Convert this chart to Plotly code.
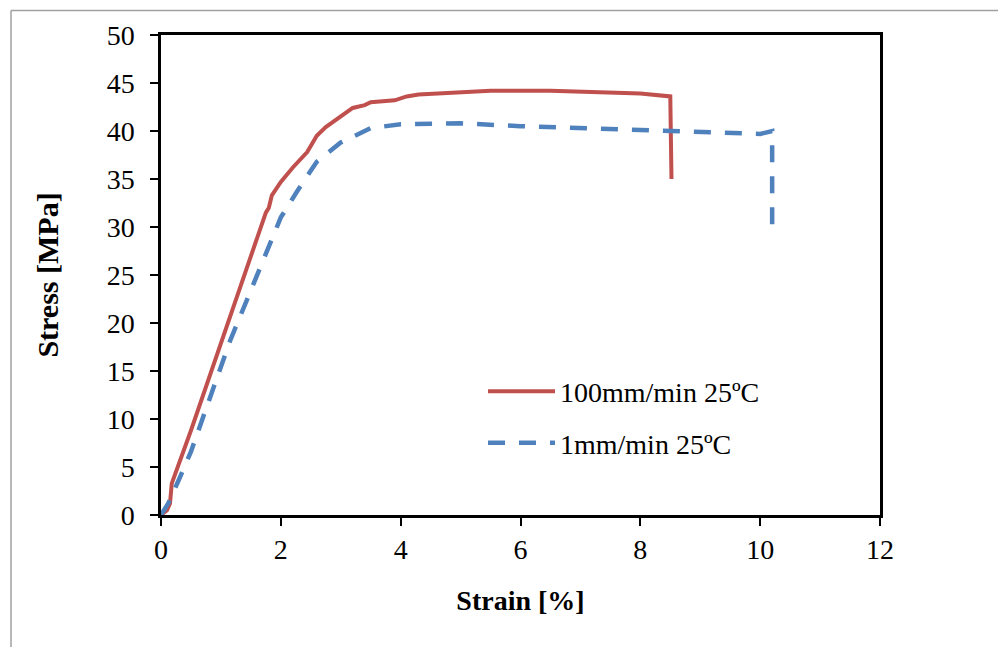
import plotly.graph_objects as go

# Data
strain_100 = [0, 0.10, 0.15, 0.18, 0.5, 1.0, 1.5, 1.75, 1.8, 1.85, 2.0, 2.2, 2.44, 2.6, 2.75, 3.0,
              3.2, 3.4, 3.5, 3.9, 4.1, 4.3, 4.8, 5.5, 6.5, 7.5, 8.0, 8.5, 8.52]
stress_100 = [0, 0.5, 1.2, 3.3, 8.8, 17.8, 27.0, 31.5, 32.0, 33.3, 34.7, 36.2, 37.8, 39.5, 40.4, 41.5,
              42.4, 42.7, 43.0, 43.2, 43.6, 43.8, 44.0, 44.2, 44.2, 44.0, 43.9, 43.6, 35.0]

strain_1 = [0, 0.12, 0.3, 0.5, 1.15, 1.77, 2.0, 2.27, 2.6, 3.0, 3.5, 4.0, 4.5, 5.0, 6.0, 6.5,
            7.0, 8.0, 9.0, 9.8, 10.0, 10.2, 10.2]
stress_1 = [0, 1.2, 3.7, 6.6, 18.1, 27.5, 31.0, 33.7, 36.8, 38.8, 40.3, 40.7, 40.8, 40.8, 40.5, 40.4,
            40.2, 40.0, 39.9, 39.7, 39.7, 40.0, 30.0]

names = ["100mm/min 25ºC", "1mm/min 25ºC"]
x_ticks = [0, 2, 4, 6, 8, 10, 12]
y_ticks = [0, 5, 10, 15, 20, 25, 30, 35, 40, 45, 50]

FONT = "Liberation Serif, Times New Roman, serif"

fig = go.Figure()
fig.add_trace(go.Scatter(x=strain_100, y=stress_100, mode="lines", name=names[0],
                         line=dict(color="#C0504D", width=4), legendgroup="a"))
fig.add_trace(go.Scatter(x=strain_1, y=stress_1, mode="lines", name=names[1],
                         line=dict(color="#4F81BD", width=4.5, dash="17px,14px"), legendgroup="b"))

# page has an 8px body margin: figure origin sits at page (8, 8)
OFF = 8
W, H = 1006 - OFF, 647 - OFF
L, T = 161 - OFF, 33 - OFF
R = W - (880 - OFF)
B = H - (515 - OFF)
pw = W - L - R
ph = H - T - B

axis_common = dict(showline=True, linecolor="black", linewidth=2.5, mirror=True,
                   ticks="outside", ticklen=8, tickwidth=2, tickcolor="black",
                   showgrid=False, zeroline=False,
                   tickfont=dict(family=FONT, size=28, color="black"))

fig.update_xaxes(range=[0, 12], tickvals=x_ticks, **axis_common,
                 title=dict(text="<b>Strain [%]</b>", font=dict(family=FONT, size=28, color="black"),
                            standoff=27))
fig.update_yaxes(range=[0, 50], tickvals=y_ticks, ticklabelstandoff=10, **axis_common,
                 title=dict(text="<b>Stress [MPa]</b>", font=dict(family=FONT, size=30, color="black"),
                            standoff=40))

# outer chart frame
def px_x(p):
    return (p - OFF - L) / pw

def px_y(p):
    return 1 - (p - OFF - T) / ph

fig.add_shape(type="line", xref="paper", yref="paper", x0=px_x(11), x1=px_x(1020),
              y0=px_y(8.5), y1=px_y(8.5), line=dict(color="#A0A0A0", width=1.5))
fig.add_shape(type="line", xref="paper", yref="paper", x0=px_x(11), x1=px_x(11),
              y0=px_y(8.5), y1=px_y(660), line=dict(color="#A0A0A0", width=1.5))

fig.update_layout(
    width=W, height=H,
    margin=dict(l=L, r=R, t=T, b=B),
    paper_bgcolor="white", plot_bgcolor="white",
    font=dict(family=FONT, color="black"),
    legend=dict(x=px_x(483), y=px_y(366), xanchor="left", yanchor="top",
                font=dict(family=FONT, size=28, color="black"),
                bgcolor="rgba(0,0,0,0)", itemwidth=67, tracegroupgap=12,
                traceorder="grouped"),
)

fig.write_html("out.html")
